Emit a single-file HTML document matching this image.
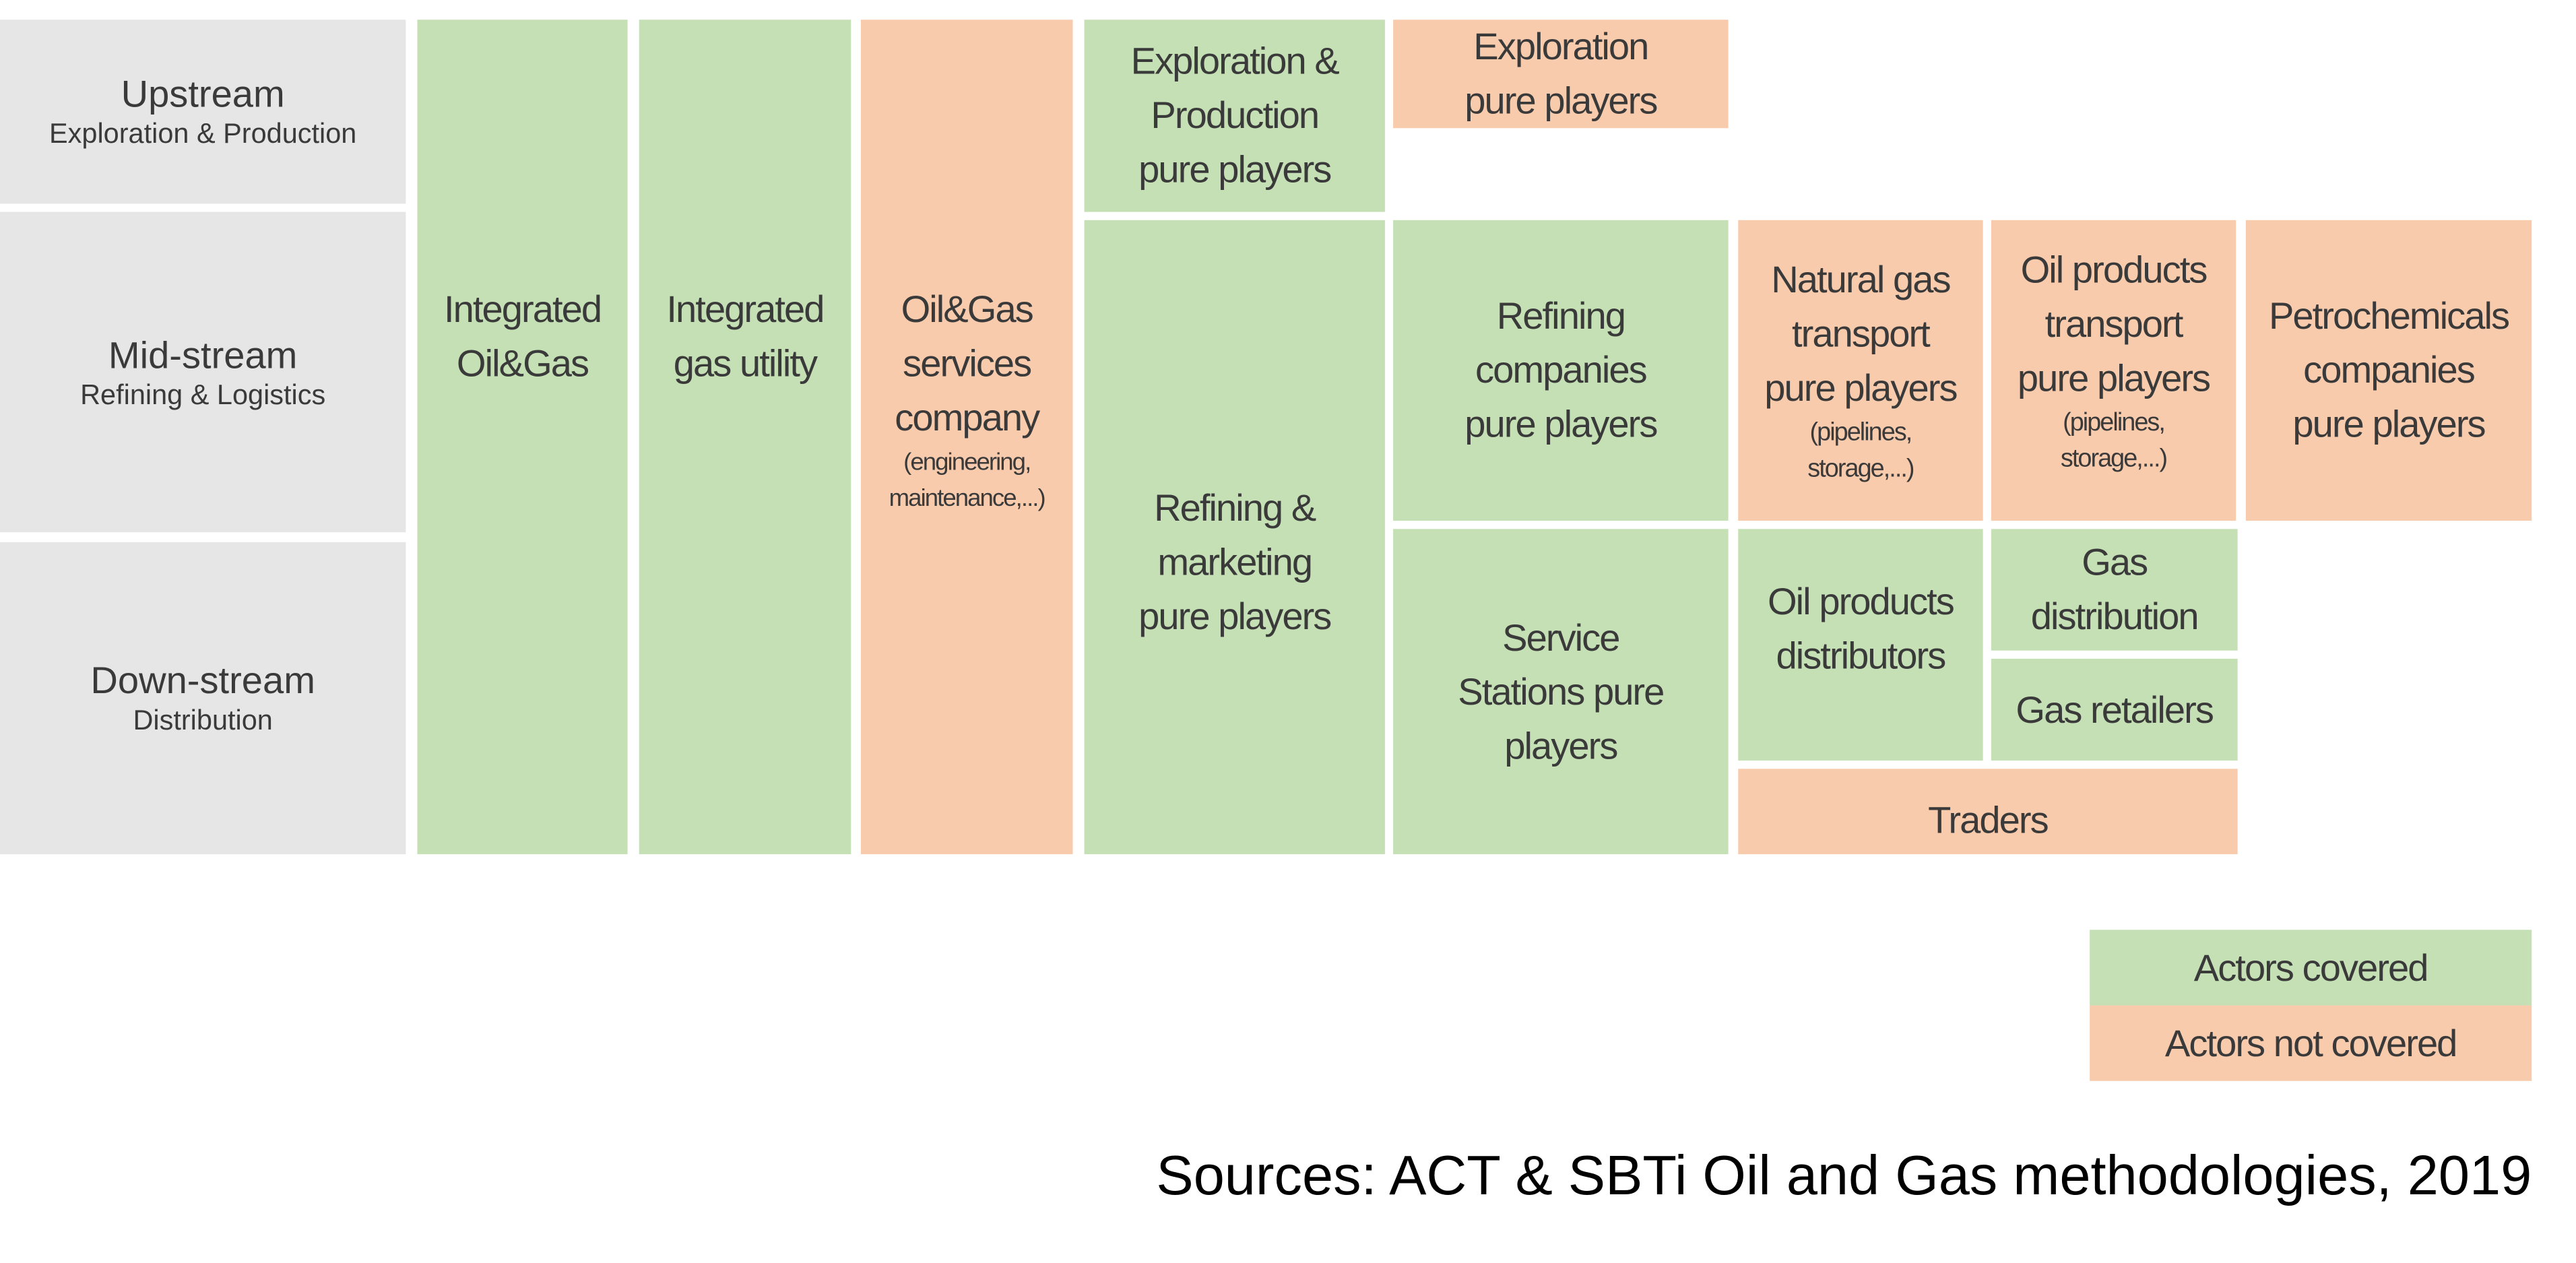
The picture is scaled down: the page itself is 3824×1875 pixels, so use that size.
<!DOCTYPE html>
<html><head><meta charset="utf-8"><style>
html,body{margin:0;padding:0;background:#fff;width:3824px;height:1875px;overflow:hidden}
#s{position:absolute;left:0;top:0;width:1568px;height:769px;transform:scale(2.4388);transform-origin:0 0}
.b{position:absolute;display:flex;flex-direction:column;align-items:center;justify-content:center;text-align:center;color:#3a3a3a;font-family:"Liberation Sans",sans-serif;font-size:23px;line-height:33px;box-sizing:border-box}
.g{background:#c5e0b4}.o{background:#f8cbad}.y{background:#e6e6e6}
.sm{font-size:15.5px;line-height:22px}
.n{letter-spacing:-0.8px}
</style></head><body><div id="s">
<div class="b y" style="left:0;top:12px;width:247px;height:112px"><div style="font-size:23px;line-height:28px">Upstream</div><div class="sm" style="font-size:17px">Exploration &amp; Production</div></div>
<div class="b y" style="left:0;top:129px;width:247px;height:195px"><div style="font-size:23px;line-height:28px">Mid-stream</div><div class="sm" style="font-size:17px">Refining &amp; Logistics</div></div>
<div class="b y" style="left:0;top:330px;width:247px;height:190px"><div style="font-size:23px;line-height:28px">Down-stream</div><div class="sm" style="font-size:17px">Distribution</div></div>

<div class="b g n" style="left:254px;top:12px;width:128px;height:508px;justify-content:flex-start;padding-top:160px">Integrated<br>Oil&amp;Gas</div>
<div class="b g n" style="left:389px;top:12px;width:129px;height:508px;justify-content:flex-start;padding-top:160px">Integrated<br>gas utility</div>
<div class="b o n" style="left:524px;top:12px;width:129px;height:508px;justify-content:flex-start;padding-top:160px">Oil&amp;Gas<br>services<br>company<div class="sm" style="font-size:15px">(engineering,<br>maintenance,...)</div></div>

<div class="b g n" style="left:660px;top:12px;width:183px;height:117px">Exploration &amp;<br>Production<br>pure players</div>
<div class="b o n" style="left:848px;top:12px;width:204px;height:66px">Exploration<br>pure players</div>
<div class="b g n" style="left:660px;top:134px;width:183px;height:386px;padding-top:30px">Refining &amp;<br>marketing<br>pure players</div>
<div class="b g n" style="left:848px;top:134px;width:204px;height:183px">Refining<br>companies<br>pure players</div>
<div class="b g n" style="left:848px;top:322px;width:204px;height:198px">Service<br>Stations pure<br>players</div>
<div class="b o n" style="left:1058px;top:134px;width:149px;height:183px">Natural gas<br>transport<br>pure players<div class="sm">(pipelines,<br>storage,...)</div></div>
<div class="b o n" style="left:1212px;top:134px;width:149px;height:183px;justify-content:flex-start;padding-top:14px">Oil products<br>transport<br>pure players<div class="sm">(pipelines,<br>storage,...)</div></div>
<div class="b o n" style="left:1367px;top:134px;width:174px;height:183px">Petrochemicals<br>companies<br>pure players</div>
<div class="b g n" style="left:1058px;top:322px;width:149px;height:141px;justify-content:flex-start;padding-top:28px">Oil products<br>distributors</div>
<div class="b g n" style="left:1212px;top:322px;width:150px;height:74px">Gas<br>distribution</div>
<div class="b g n" style="left:1212px;top:401px;width:150px;height:62px">Gas retailers</div>
<div class="b o n" style="left:1058px;top:468px;width:304px;height:52px;padding-top:10px">Traders</div>

<div class="b g n" style="left:1272px;top:566px;width:269px;height:46px">Actors covered</div>
<div class="b o n" style="left:1272px;top:612px;width:269px;height:46px">Actors not covered</div>
<div style="position:absolute;right:27px;top:697px;font-family:'Liberation Sans',sans-serif;font-size:34px;color:#000;white-space:nowrap">Sources: ACT &amp; SBTi Oil and Gas methodologies, 2019</div>
</div></body></html>
